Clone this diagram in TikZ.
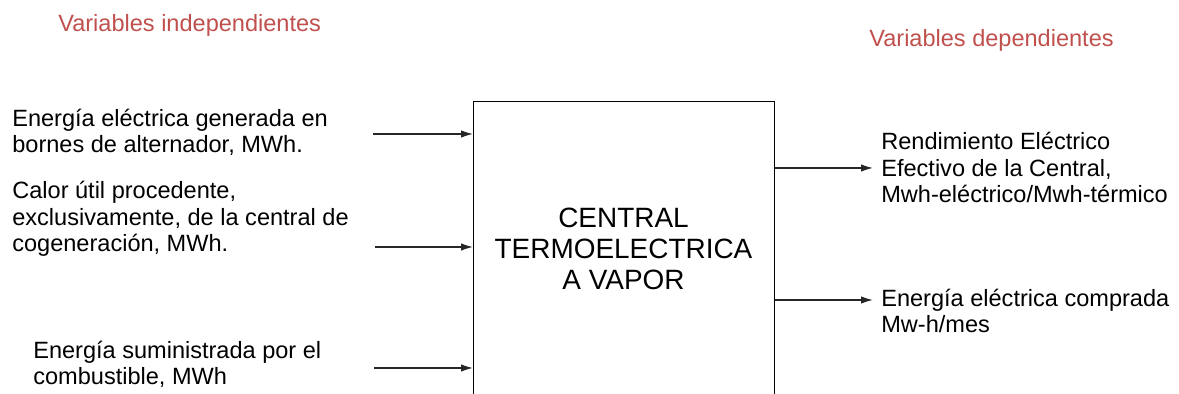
\documentclass[tikz,border=0pt]{standalone}
\usepackage{fontspec}
\setmainfont{Liberation Sans}
\usepackage{xcolor}
\usetikzlibrary{positioning, arrows.meta}
\definecolor{titlered}{HTML}{C0504D}

\begin{document}
\begin{tikzpicture}[
x=0.02cm, y=-0.02cm,
varlabel/.style={
anchor=base west,
inner sep=0pt,
align=left,
font=\fontsize{13.4}{15.2}\selectfont
},
heading/.style={
anchor=base west,
inner sep=0pt,
text=titlered,
font=\fontsize{13.4}{15}\selectfont
},
plant/.style={
rectangle,
draw,
line width=0.8pt,
anchor=north west,
minimum width=6.02cm,
minimum height=8cm
},
arrow/.style={
-{Latex[length=2.4mm, width=1.5mm]},
line width=0.75pt,
black!85
}
]
\useasboundingbox (0,0) rectangle (1179,394);
\clip (0,0) rectangle (1179,394);

\node[heading] (indep) at (58,32) {Variables independientes};
\node[heading] (dep) at (869,47) {Variables dependientes};

% box runs past the lower edge
\node[plant] (central) at (473,101) {};
\node[align=center, inner sep=0pt, anchor=base,
font=\fontsize{15.9}{17.9}\selectfont] (name) at (623.5,290)
{CENTRAL\\TERMOELECTRICA\\A VAPOR};

% base = last line
\node[varlabel] (gen) at (12,153) {Energía eléctrica generada en\\bornes de alternador, MWh.};
\node[varlabel] (heat) at (12,252) {Calor útil procedente,\\exclusivamente, de la central de\\cogeneración, MWh.};
\node[varlabel] (fuel) at (33,385) {Energía suministrada por el\\combustible, MWh};

\node[varlabel] (eff) at (881,203) {Rendimiento Eléctrico\\Efectivo de la Central,\\Mwh-eléctrico/Mwh-térmico};
\node[varlabel] (buy) at (881,333) {Energía eléctrica comprada\\Mw-h/mes};

\coordinate (in1) at (373,134);
\coordinate (in2) at (375,247);
\coordinate (in3) at (374,368);
\coordinate (out1) at (873,168);
\coordinate (out2) at (873,300);

\draw[arrow] (in1) -- (in1 -| central.west);
\draw[arrow] (in2) -- (in2 -| central.west);
\draw[arrow] (in3) -- (in3 -| central.west);
\draw[arrow] (out1 -| central.east) -- (out1);
\draw[arrow] (out2 -| central.east) -- (out2);

\end{tikzpicture}
\end{document}
